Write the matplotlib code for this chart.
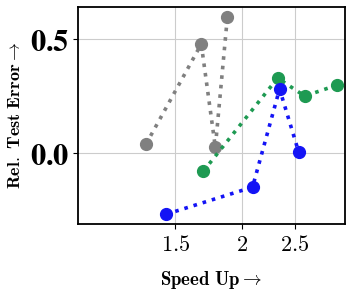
import matplotlib
matplotlib.use("Agg")
import matplotlib.pyplot as plt
from matplotlib.ticker import FixedLocator, NullLocator, FixedFormatter

plt.rcParams['mathtext.fontset'] = 'cm'
plt.rcParams['font.family'] = 'serif'
plt.rcParams['font.serif'] = ['DejaVu Serif']

gray_x = [1.324, 1.677, 1.781, 1.875]
gray_y = [0.039, 0.478, 0.026, 0.596]
green_x = [1.692, 2.325, 2.61, 2.995]
green_y = [-0.079, 0.329, 0.25, 0.298]
blue_x = [1.443, 2.088, 2.344, 2.544]
blue_y = [-0.268, -0.149, 0.281, 0.004]

xticks = [1.5, 2, 2.5]
xticklabels = [r'$1.5$', r'$2$', r'$2.5$']
yticks = [0.0, 0.5]
yticklabels = [r'$\mathbf{0.0}$', r'$\mathbf{0.5}$']

fig = plt.figure(figsize=(3.52, 2.96), dpi=100)
ax = fig.add_axes([0.2216, 0.243, 0.7584, 0.733])

series = [(gray_x, gray_y, '#808080'), (green_x, green_y, '#1e9a52'), (blue_x, blue_y, '#1414f5')]
for xs, ys, c in series:
    ax.plot(xs, ys, linestyle=':', linewidth=2.6, color=c, marker='o', markersize=8.5, zorder=3)

ax.set_xscale('log')
ax.set_xlim(0.99, 3.1)
ax.set_ylim(-0.311, 0.64)
ax.xaxis.set_major_locator(FixedLocator(xticks))
ax.xaxis.set_major_formatter(FixedFormatter(xticklabels))
ax.xaxis.set_minor_locator(NullLocator())
ax.set_yticks(yticks)
ax.set_yticklabels(yticklabels)
for t in ax.get_yticklabels():
    t.set_math_fontfamily('stix')
ax.tick_params(axis='x', labelsize=16, length=3.5, width=0.8, pad=4)
ax.tick_params(axis='y', labelsize=22, length=3.5, width=0.8, pad=3)
ax.grid(True, color='#cccccc', linewidth=0.8, zorder=0)
ax.set_axisbelow(True)
for s in ax.spines.values():
    s.set_linewidth(1.3)
    s.set_color('black')

ax.set_xlabel(r'$\mathbf{Speed\ Up} \rightarrow$', fontsize=13.5, labelpad=9)
ax.set_ylabel(r'$\mathbf{Rel.\ Test\ Error} \rightarrow$', fontsize=13, labelpad=4)

fig.savefig('out.png', dpi=100)
